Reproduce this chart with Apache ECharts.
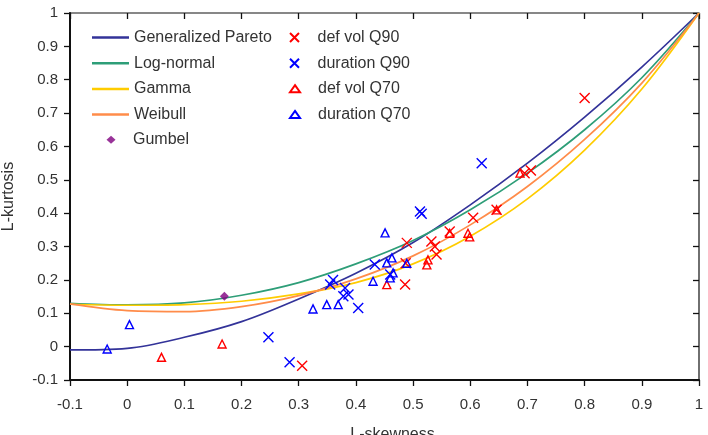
<!DOCTYPE html>
<html>
<head>
<meta charset="utf-8">
<script src="https://cdn.jsdelivr.net/npm/echarts@6/dist/echarts.min.js"></script>
<style>
  html, body { margin: 0; padding: 0; background: #fff; }
  #main { width: 708px; height: 435px; }
</style>
</head>
<body>
<div id="main"></div>
<script>
// L-skewness grid for the theoretical curves
var skew = [-0.1, 0, 0.1, 0.2, 0.3, 0.4, 0.5, 0.6, 0.7, 0.8, 0.9, 1.0];
var gpa = [-0.01, -0.005, 0.028, 0.075, 0.143, 0.22, 0.312, 0.425, 0.55, 0.688, 0.838, 1.0];
var lognormal = [0.13, 0.125, 0.131, 0.154, 0.192, 0.248, 0.318, 0.41, 0.52, 0.65, 0.806, 1.0];
var gamma = [0.127, 0.124, 0.126, 0.136, 0.158, 0.192, 0.248, 0.331, 0.443, 0.589, 0.772, 1.0];
var weibull = [0.128, 0.108, 0.105, 0.12, 0.153, 0.203, 0.272, 0.365, 0.48, 0.621, 0.79, 1.0];

// sample points [L-skewness, L-kurtosis]
var gumbel = [[0.17, 0.151]];
var defVolQ90 = [[0.306, -0.057], [0.486, 0.186], [0.487, 0.25], [0.489, 0.311], [0.532, 0.315], [0.538, 0.30],
  [0.541, 0.276], [0.564, 0.345], [0.605, 0.386], [0.646, 0.41], [0.695, 0.52], [0.706, 0.528], [0.80, 0.745]];
var durationQ90 = [[0.247, 0.028], [0.284, -0.047], [0.355, 0.186], [0.36, 0.20], [0.378, 0.151], [0.381, 0.176],
  [0.387, 0.156], [0.404, 0.116], [0.433, 0.246], [0.46, 0.216], [0.512, 0.405], [0.515, 0.398], [0.62, 0.55]];
var defVolQ70 = [[0.06, -0.032], [0.166, 0.008], [0.454, 0.186], [0.524, 0.245], [0.526, 0.26], [0.564, 0.34],
  [0.596, 0.34], [0.599, 0.329], [0.646, 0.41], [0.687, 0.52]];
var durationQ70 = [[-0.035, -0.007], [0.004, 0.066], [0.325, 0.113], [0.349, 0.126], [0.369, 0.126], [0.43, 0.196],
  [0.451, 0.341], [0.454, 0.251], [0.46, 0.206], [0.463, 0.266], [0.465, 0.221], [0.489, 0.25]];

var FONT = 'Liberation Sans';
var CROSS = 'path://M0,0L10,10M10,0L0,10';

var pair = function (xs, ys) {
  var out = [];
  for (var i = 0; i < xs.length; i++) out.push([xs[i], ys[i]]);
  return out;
};

var fmt = function (v) { return String(parseFloat(v.toFixed(2))); };

var curve = function (name, ys, color) {
  return {
    name: name, type: 'line', data: pair(skew, ys), smooth: 0.35,
    symbol: 'none', lineStyle: { color: color, width: 1.7 }, itemStyle: { color: color }, z: 2
  };
};

var points = function (name, data, symbol, color, size) {
  return {
    name: name, type: 'scatter', data: data, symbol: symbol, symbolSize: size,
    itemStyle: { color: 'rgba(0,0,0,0)', borderColor: color, borderWidth: 1.4, opacity: 1 }, z: 3
  };
};

var baseAxis = function (margin) {
  return {
    type: 'value', min: -0.1, max: 1, interval: 0.1,
    splitLine: { show: false },
    axisLine: { onZero: false, lineStyle: { color: '#111', width: 2 } },
    axisTick: { length: 6, lineStyle: { color: '#111', width: 1.3 } },
    axisLabel: { color: '#333', fontFamily: FONT, fontSize: 15, formatter: fmt, margin: margin }
  };
};

// inner half of the crossing ticks
var innerAxis = function () {
  var a = baseAxis(0);
  a.axisLine = { show: false, onZero: false };
  a.axisLabel = { show: false };
  a.axisTick = { inside: true, length: 6, lineStyle: { color: '#111', width: 1.3 } };
  return a;
};

var xMain = baseAxis(17);
xMain.name = 'L-skewness';
xMain.nameLocation = 'middle';
xMain.nameGap = 47;
xMain.nameTextStyle = { color: '#333', fontFamily: FONT, fontSize: 16, padding: [0, 0, 0, 16] };
var yMain = baseAxis(12);
yMain.name = 'L-kurtosis';
yMain.nameLocation = 'middle';
yMain.nameGap = 53;
yMain.nameTextStyle = { color: '#333', fontFamily: FONT, fontSize: 16 };

var chart = echarts.init(document.getElementById('main'));

var ROW_GAP = 9.7;
var legendText = function (pad) {
  return { fontFamily: FONT, fontSize: 16, color: '#333', padding: [0, 0, 0, pad] };
};

chart.setOption({
  backgroundColor: '#fff',
  animation: false,
  grid: {
    left: 70, right: 9, top: 13, bottom: 55, containLabel: false, outerBoundsMode: 'none',
    show: true, borderColor: '#111', borderWidth: 1.2
  },
  xAxis: [xMain, innerAxis()],
  yAxis: [yMain, innerAxis()],
  legend: [
    {
      left: 92, top: 29.5, padding: 0, orient: 'vertical', icon: 'rect', itemWidth: 37, itemHeight: 2.5,
      itemGap: ROW_GAP, textStyle: legendText(0),
      data: ['Generalized Pareto', 'Log-normal', 'Gamma', 'Weibull']
    },
    {
      left: 106.5, top: 131.8, padding: 0, orient: 'vertical', itemWidth: 9, itemHeight: 8,
      itemGap: ROW_GAP, textStyle: legendText(12.5),
      data: ['Gumbel']
    },
    {
      left: 289, top: 29.5, padding: 0, orient: 'vertical', itemWidth: 10, itemHeight: 9,
      itemGap: ROW_GAP, textStyle: legendText(13),
      data: ['def vol Q90', 'duration Q90']
    },
    {
      left: 289, top: 80.7, padding: 0, orient: 'vertical', itemWidth: 10, itemHeight: 7,
      itemGap: ROW_GAP, textStyle: legendText(13),
      data: ['def vol Q70', 'duration Q70']
    }
  ],
  series: [
    curve('Generalized Pareto', gpa, '#333399'),
    curve('Log-normal', lognormal, '#2e9e78'),
    curve('Gamma', gamma, '#ffcc00'),
    curve('Weibull', weibull, '#ff8c4a'),
    {
      name: 'Gumbel', type: 'scatter', data: gumbel, symbol: 'diamond', symbolSize: 9,
      itemStyle: { color: '#800080' }, z: 4
    },
    points('def vol Q90', defVolQ90, CROSS, '#ff0000', 10),
    points('duration Q90', durationQ90, CROSS, '#0000ff', 10),
    points('def vol Q70', defVolQ70, 'triangle', '#ff0000', 8),
    points('duration Q70', durationQ70, 'triangle', '#0000ff', 8)
  ]
});
</script>
</body>
</html>
